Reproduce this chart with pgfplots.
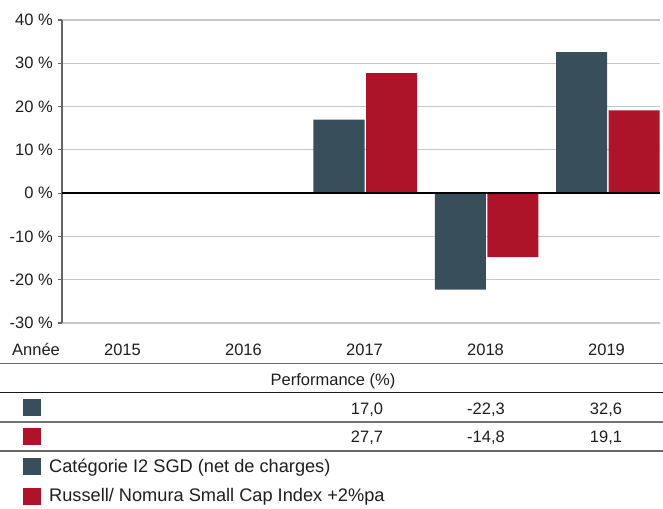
\documentclass[border=0pt]{standalone}
\usepackage{pgfplots}
\pgfplotsset{compat=1.18}
\usepackage{fontspec}
\setmainfont{Liberation Sans}
\definecolor{blueC}{HTML}{384E5B}
\definecolor{redC}{HTML}{AE1429}
\definecolor{txt}{HTML}{1E1E1E}
\begin{document}
\begin{tikzpicture}[font=\fontsize{16.5}{20}\selectfont, color=txt]
\path[use as bounding box] (0pt,0pt) rectangle (663pt,508pt);
\begin{axis}[
  at={(62pt,185pt)}, anchor=south west,
  width=598pt, height=303pt, scale only axis,
  xmin=-0.5, xmax=4.43, ymin=-30, ymax=40,
  hide x axis,
  axis y line*=left,
  y axis line style={draw=black!60, line width=1.5pt},
  ytick={-30,-20,-10,0,10,20,30,40},
  yticklabels={-30 \%,-20 \%,-10 \%,0 \%,10 \%,20 \%,30 \%,40 \%},
  ymajorgrids,
  grid style={black!22, line width=1.2pt},
  major tick length=4pt, tick align=outside,
  ytick style={draw=black!60, line width=1.2pt},
  yticklabel style={inner sep=0pt, xshift=-5pt, text=txt},
  tick label style={font=\fontsize{16.5}{20}\selectfont},
  legend style={at={(-0.0652,-0.5228)}, anchor=west, draw=none, fill=none,
    inner sep=0pt, row sep=10.5pt, font=\fontsize{18.2}{22}\selectfont, text=txt,
    /tikz/every odd column/.append style={column sep=6pt}},
  legend cell align=left,
  legend image code/.code={\fill[#1] (0pt,-8.5pt) rectangle (18pt,8.5pt);},
]
\addplot[ybar, bar width=51pt, bar shift=-26.25pt, fill=blueC, draw=none]
  coordinates {(2,17.0) (3,-22.3) (4,32.6)};
\addlegendentry{Catégorie I2 SGD (net de charges)}
\addplot[ybar, bar width=51pt, bar shift=26.25pt, fill=redC, draw=none]
  coordinates {(2,27.7) (3,-14.8) (4,19.1)};
\addlegendentry{Russell/ Nomura Small Cap Index +2\%pa}
\draw[black, line width=2pt] (axis cs:-0.5,0) -- (axis cs:4.43,0);
\end{axis}
% table
\node[anchor=west, inner sep=0pt] at (12pt,158pt) {Année};
\foreach \x/\y in {122.5/2015,243.5/2016,364.5/2017,485.5/2018,606.5/2019}
  \node[inner sep=0pt] at (\x pt,158pt) {\y};
\draw[black!60, line width=1.5pt] (0pt,144.5pt) -- (663pt,144.5pt);
\node[inner sep=0pt] at (333pt,126.3pt) {Performance (\%)};
\draw[black!90, line width=1.5pt] (0pt,115.5pt) -- (663pt,115.5pt);
\node[fill=blueC, minimum width=18pt, minimum height=17pt, inner sep=0pt] at (32pt,100pt) {};
\foreach \x/\y in {367/{17,0},486/{-22,3},606/{32,6}}
  \node[inner sep=0pt] at (\x pt,98pt) {\y};
\draw[black!55, line width=1.5pt] (0pt,86pt) -- (663pt,86pt);
\node[fill=redC, minimum width=18pt, minimum height=17pt, inner sep=0pt] at (32pt,71pt) {};
\foreach \x/\y in {367/{27,7},486/{-14,8},606/{19,1}}
  \node[inner sep=0pt] at (\x pt,70pt) {\y};
\draw[black!60, line width=1.5pt] (0pt,57pt) -- (663pt,57pt);
\end{tikzpicture}
\end{document}
